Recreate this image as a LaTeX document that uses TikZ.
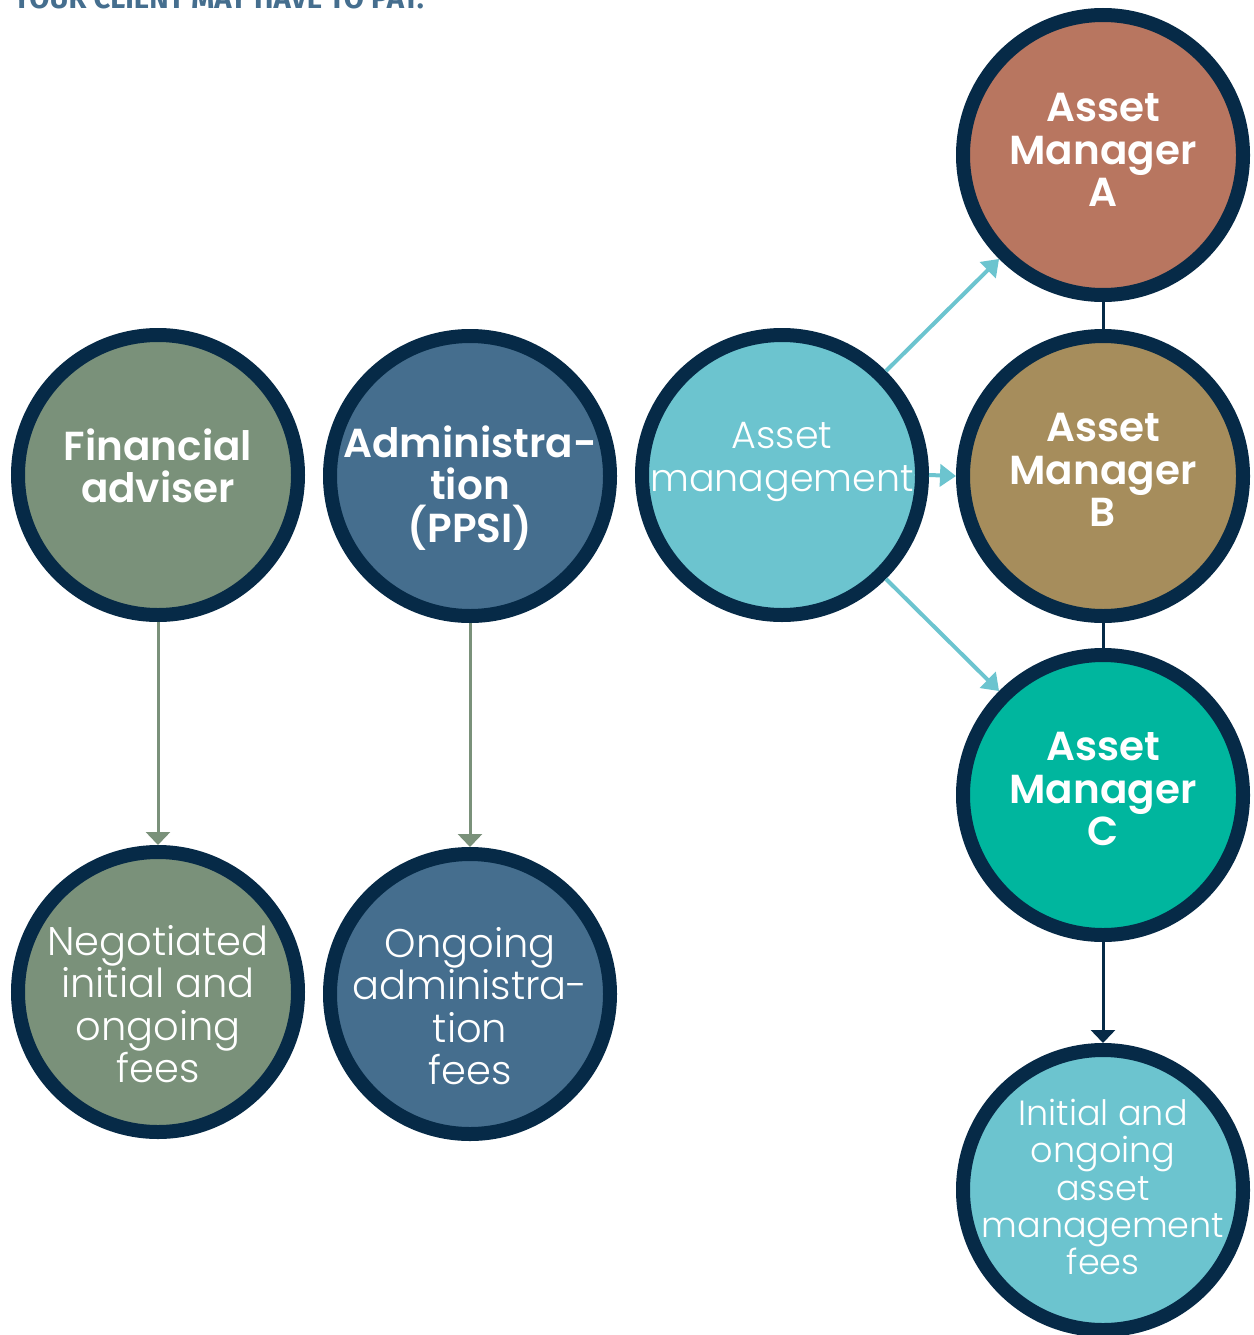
\documentclass[tikz,border=0pt]{standalone}
\usepackage{fontspec}
\setmainfont{Poppins}
\newfontfamily\titlefont{Fira Sans}
\newfontfamily\lightfont{Poppins Light}
\newfontfamily\semifont{Poppins SemiBold}
\usetikzlibrary{arrows.meta}
\definecolor{navy}{HTML}{062A47}
\definecolor{sage}{HTML}{7A917A}
\definecolor{steel}{HTML}{456E8E}
\definecolor{teal}{HTML}{6CC4CF}
\definecolor{rust}{HTML}{B87660}
\definecolor{khaki}{HTML}{A68D5C}
\definecolor{jade}{HTML}{00B69E}
\tikzset{
  disc/.style={circle, draw=navy, line width=14pt, minimum size=280pt, inner sep=0pt},
  boldtxt/.style={text=white, align=center, font=\fontsize{40.5}{42.3}\selectfont\semifont},
  lighttxt/.style={text=white, align=center, font=\fontsize{40}{42.5}\selectfont\lightfont},
  smalltxt/.style={text=white, align=center, font=\fontsize{35}{37.3}\selectfont\lightfont},
  greenarrow/.style={draw=sage, line width=3pt, -{Triangle[length=13pt,width=24pt]}},
  tealarrow/.style={draw=teal, line width=4pt, -{Triangle[length=16pt,width=22pt]}},
  navyarrow/.style={draw=navy, line width=3pt, -{Triangle[length=13pt,width=24pt]}},
  navyline/.style={draw=navy, line width=3pt},
}
\begin{document}
\begin{tikzpicture}[x=1pt,y=-1pt]
\useasboundingbox (0,0) rectangle (1253,1335);
\clip (0,0) rectangle (1253,1335);
\node[anchor=base west, text=steel, inner sep=0pt, font=\fontsize{29.2}{30}\selectfont\titlefont\bfseries] (title) at (13,9) {YOUR CLIENT MAY HAVE TO PAY.};

\node[disc, fill=sage] (fa) at (158,475) {};
\node[disc, fill=steel] (adm) at (470,476) {};
\node[disc, fill=teal] (am) at (782,475) {};
\node[disc, fill=rust] (ama) at (1103,155) {};
\node[disc, fill=khaki] (amb) at (1103,476) {};
\node[disc, fill=jade] (amc) at (1103,795) {};
\node[disc, fill=sage] (nf) at (158,992) {};
\node[disc, fill=steel] (of) at (470,994) {};
\node[disc, fill=teal] (if) at (1103,1190) {};

\node[boldtxt] (tfa) at (158,466) {Financial\\adviser};
\node[boldtxt] (tadm) at (470,488) {Administra-\\tion\\(PPSI)};
\node[lighttxt, font=\fontsize{38}{42.5}\selectfont\lightfont] (tam) at (782,462) {Asset\\management};
\node[boldtxt] (tama) at (1103,150) {Asset\\Manager\\A};
\node[boldtxt] (tamb) at (1103,470) {Asset\\Manager\\B};
\node[boldtxt] (tamc) at (1103,789) {Asset\\Manager\\C};
\node[lighttxt] (tnf) at (158,1004) {Negotiated\\initial and\\ongoing\\fees};
\node[lighttxt] (tof) at (470,1006) {Ongoing\\administra-\\tion\\fees};
\node[smalltxt] (tif) at (1103,1187) {Initial and\\ongoing\\asset\\management\\fees};

\draw[greenarrow] (fa.south) -- (nf.north);
\draw[greenarrow] (adm.south) -- (of.north);
\draw[tealarrow] (am.45) -- (ama.-135);
\draw[tealarrow] (am.east) -- (amb.west);
\draw[tealarrow] (am.-45) -- (amc.135);
\draw[navyline] (ama.south) -- (amb.north);
\draw[navyline] (amb.south) -- (amc.north);
\draw[navyarrow] (amc.south) -- (if.north);
\end{tikzpicture}
\end{document}
